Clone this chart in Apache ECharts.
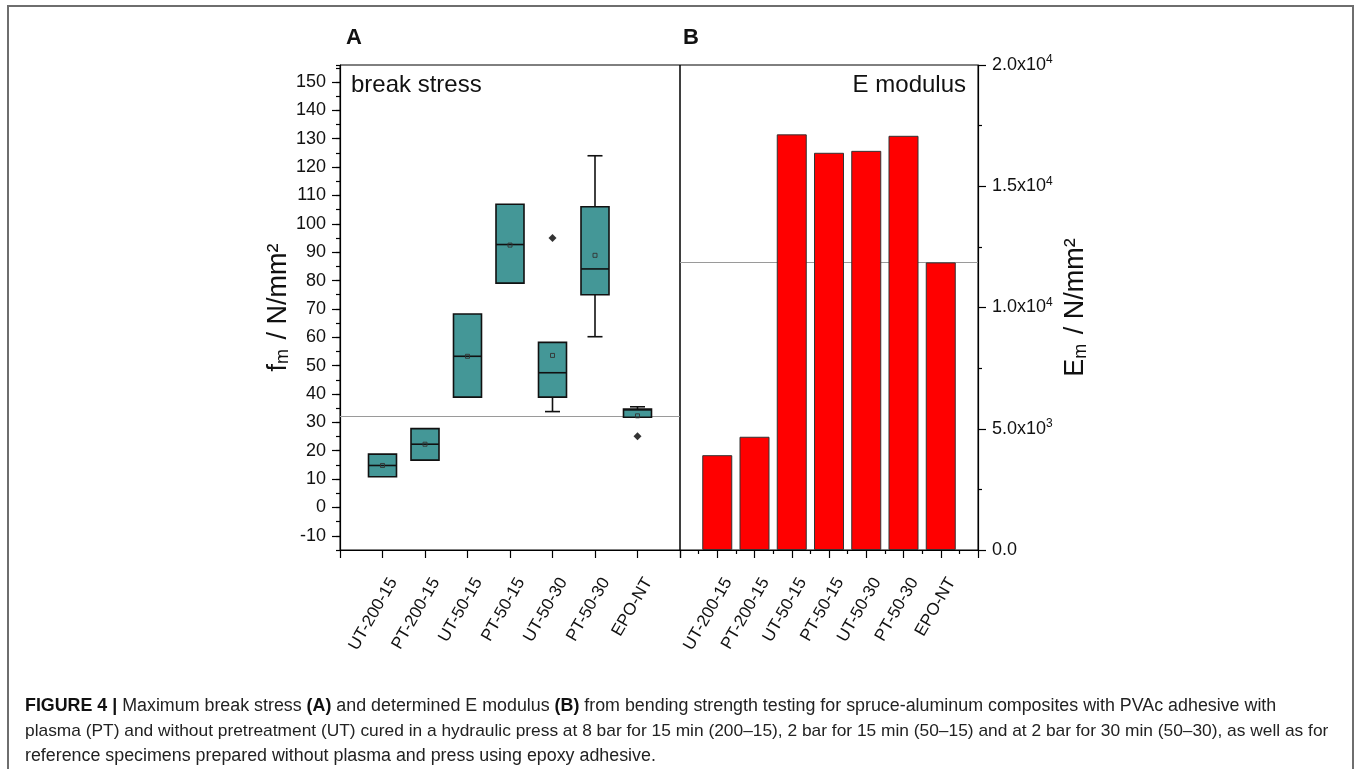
<!DOCTYPE html>
<html><head><meta charset="utf-8">
<script src="https://cdn.jsdelivr.net/npm/echarts@6/dist/echarts.min.js"></script>
<style>html,body{margin:0;padding:0;background:#fff}#c{width:1354px;height:769px}</style>
</head><body><div id="c"></div>
<script>
// ---- data ----
const categories = ['UT-200-15','PT-200-15','UT-50-15','PT-50-15','UT-50-30','PT-50-30','EPO-NT'];
const stressWhiskerLow  = [10.8, 16.7, 38.9, 79.1, 33.8, 60.2, 31.8];
const stressQ1          = [10.8, 16.7, 38.9, 79.1, 38.9, 75.0, 31.8];
const stressMedian      = [14.8, 22.3, 53.3, 92.7, 47.5, 84.1, 34.4];
const stressQ3          = [18.8, 27.8, 68.2, 106.9, 58.2, 106.0, 34.7];
const stressWhiskerHigh = [18.8, 27.8, 68.2, 106.9, 58.2, 124.0, 35.5];
const stressMean        = [14.8, 22.3, 53.3, 92.5, 53.6, 88.9, 32.3];
const outlierCategory   = ['UT-50-30', 'EPO-NT'];
const outlierValue      = [95.0, 25.1];
const modulus           = [3910, 4670, 17140, 16380, 16460, 17080, 11860];
const stressRefLine     = 32.3;
const modulusRefLine    = 11860;
const stressTickLabels  = [-10,0,10,20,30,40,50,60,70,80,90,100,110,120,130,140,150];
const modulusTickLabels = {0:'0.0', 5000:['5.0','3'], 10000:['1.0','4'], 15000:['1.5','4'], 20000:['2.0','4']};

// ---- build ----
const FONT = 'Liberation Sans, Arial, sans-serif';
const TEAL = '#449797';
const boxData = categories.map((c, i) => [i + 1, stressWhiskerLow[i], stressQ1[i], stressMedian[i], stressQ3[i], stressWhiskerHigh[i], stressMean[i]]);
const outlierData = outlierCategory.map((c, i) => [categories.indexOf(c) + 1, outlierValue[i]]);
const barData = modulus.map((v, i) => [i + 1, v]);
const catLabel = v => (v >= 1 && v <= categories.length && Number.isInteger(v)) ? categories[v - 1] : '';

const grid0 = {left: 340, top: 65, width: 340, height: 485};
const grid1 = {left: 680, top: 65, width: 298, height: 485};

const xLabelStyle = {rotate: 60, fontSize: 17, fontFamily: FONT, color: '#111', margin: 23, verticalAlign: 'top', lineHeight: 25, formatter: catLabel};
const axisLineStyle = {onZero: false, lineStyle: {color: '#000', width: 1.2}};
const titleRich = {i: {fontSize: 27, fontFamily: FONT, color: '#111'}, s: {fontSize: 18, fontFamily: FONT, color: '#111', verticalAlign: 'bottom', padding: [10, 2, 0, 0]}};

const option = {
  animation: false,
  backgroundColor: '#fff',
  grid: [
    Object.assign({show: true, borderColor: '#000', borderWidth: 1, backgroundColor: 'transparent'}, grid0),
    Object.assign({show: true, borderColor: '#000', borderWidth: 1, backgroundColor: 'transparent'}, grid1),
    Object.assign({show: false}, grid0)
  ],
  xAxis: [
    {gridIndex: 0, type: 'value', min: 0, max: 8, interval: 1,
      axisLine: axisLineStyle, axisTick: {show: true, length: 8, lineStyle: {color: '#000', width: 1.2}},
      axisLabel: xLabelStyle, splitLine: {show: false}},
    {gridIndex: 1, type: 'value', min: 0, max: 8, interval: 1,
      axisLine: axisLineStyle, axisTick: {show: true, length: 8, lineStyle: {color: '#000', width: 1.2}},
      minorTick: {show: true, splitNumber: 2, length: 4, lineStyle: {color: '#000', width: 1.2}},
      axisLabel: xLabelStyle, splitLine: {show: false}},
    {gridIndex: 2, type: 'value', min: 0, max: 8, show: false}
  ],
  yAxis: [
    {gridIndex: 0, type: 'value', min: -15, max: 156, interval: 5,
      axisLine: Object.assign({show: true}, axisLineStyle),
      axisTick: {show: true, length: 4, lineStyle: {color: '#000', width: 1.2}},
      axisLabel: {customValues: stressTickLabels, fontSize: 18, fontFamily: FONT, color: '#111', margin: 14},
      splitLine: {show: false},
      name: '{i|f}{s|m}{i| / N/mm²}', nameLocation: 'middle', nameRotate: 90, nameGap: 46,
      nameTextStyle: {rich: titleRich}},
    {gridIndex: 1, type: 'value', position: 'right', min: 0, max: 20000, interval: 5000,
      axisLine: Object.assign({show: true}, axisLineStyle),
      axisTick: {show: true, length: 8, lineStyle: {color: '#000', width: 1.2}},
      minorTick: {show: true, splitNumber: 2, length: 4, lineStyle: {color: '#000', width: 1.2}},
      axisLabel: {fontSize: 18, fontFamily: FONT, color: '#111', margin: 14,
        formatter: v => { const t = modulusTickLabels[v]; if (t === undefined) return ''; if (typeof t === 'string') return '{m|' + t + '}'; return '{m|' + t[0] + 'x10}{p|' + t[1] + '}'; },
        rich: {m: {fontSize: 18, fontFamily: FONT, color: '#111'}, p: {fontSize: 12, fontFamily: FONT, color: '#111', verticalAlign: 'top', padding: [0, 0, 10, 0]}}},
      splitLine: {show: false},
      name: '{i|E}{s|m}{i| / N/mm²}', nameLocation: 'middle', nameRotate: 90, nameGap: 84,
      nameTextStyle: {rich: titleRich}},
    {gridIndex: 2, type: 'value', min: -15, max: 156, position: 'left',
      axisLine: {show: false, onZero: false}, axisLabel: {show: false}, splitLine: {show: false},
      axisTick: {show: true, customValues: stressTickLabels, length: 8, lineStyle: {color: '#000', width: 1.2}}}
  ],
  series: [
    {type: 'line', xAxisIndex: 0, yAxisIndex: 0, data: [], z: 1, silent: true,
      markLine: {silent: true, symbol: 'none', label: {show: false}, lineStyle: {color: '#9a9a9a', width: 1.2, type: 'solid'}, data: [{yAxis: stressRefLine}]}},
    {type: 'line', xAxisIndex: 1, yAxisIndex: 1, data: [], z: 1, silent: true,
      markLine: {silent: true, symbol: 'none', label: {show: false}, lineStyle: {color: '#9a9a9a', width: 1.2, type: 'solid'}, data: [{yAxis: modulusRefLine}]}},
    {type: 'custom', xAxisIndex: 0, yAxisIndex: 0, z: 5, data: boxData,
      renderItem: (params, api) => {
        const x = api.value(0);
        const pLo = api.coord([x, api.value(1)]), pQ1 = api.coord([x, api.value(2)]), pMed = api.coord([x, api.value(3)]);
        const pQ3 = api.coord([x, api.value(4)]), pHi = api.coord([x, api.value(5)]), pMean = api.coord([x, api.value(6)]);
        const hw = 14, cw = 7.5, cx = pQ1[0];
        const ls = {stroke: '#111', lineWidth: 1.6};
        const ch = [];
        if (Math.abs(pLo[1] - pQ1[1]) > 0.5) {
          ch.push({type: 'line', shape: {x1: cx, y1: pQ1[1], x2: cx, y2: pLo[1]}, style: ls});
          ch.push({type: 'line', shape: {x1: cx - cw, y1: pLo[1], x2: cx + cw, y2: pLo[1]}, style: ls});
        }
        if (Math.abs(pHi[1] - pQ3[1]) > 0.5) {
          ch.push({type: 'line', shape: {x1: cx, y1: pQ3[1], x2: cx, y2: pHi[1]}, style: ls});
          ch.push({type: 'line', shape: {x1: cx - cw, y1: pHi[1], x2: cx + cw, y2: pHi[1]}, style: ls});
        }
        ch.push({type: 'rect', shape: {x: cx - hw, y: pQ3[1], width: 2 * hw, height: pQ1[1] - pQ3[1]}, style: {fill: TEAL, stroke: '#111', lineWidth: 1.6}});
        ch.push({type: 'line', shape: {x1: cx - hw, y1: pMed[1], x2: cx + hw, y2: pMed[1]}, style: ls});
        ch.push({type: 'rect', shape: {x: cx - 2, y: pMean[1] - 2, width: 4, height: 4}, style: {fill: 'none', stroke: '#333', lineWidth: 0.9}});
        return {type: 'group', children: ch};
      }},
    {type: 'scatter', xAxisIndex: 0, yAxisIndex: 0, z: 6, data: outlierData, symbol: 'diamond', symbolSize: 8,
      itemStyle: {color: '#000'}},
    {type: 'bar', xAxisIndex: 1, yAxisIndex: 1, z: 5, data: barData, barWidth: 30,
      itemStyle: {color: '#ff0000', borderColor: '#333', borderWidth: 1}}
  ],
  graphic: [
    {type: 'rect', z: 100, shape: {x: 8, y: 6, width: 1345, height: 800}, style: {fill: 'none', stroke: '#6e6e6e', lineWidth: 2}},
    {type: 'text', left: 346, top: 27, style: {text: 'A', font: 'bold 22px ' + FONT, fill: '#111'}},
    {type: 'text', left: 683, top: 27, style: {text: 'B', font: 'bold 22px ' + FONT, fill: '#111'}},
    {type: 'text', left: 351, top: 73, style: {text: 'break stress', font: '24px ' + FONT, fill: '#111'}},
    {type: 'text', right: 1354 - 966, top: 73, style: {text: 'E modulus', font: '24px ' + FONT, fill: '#111'}},
    {type: 'text', left: 25, top: 694, style: {
      text: '{b|FIGURE 4 |} Maximum break stress {b|(A)} and determined E modulus {b|(B)} from bending strength testing for spruce-aluminum composites with PVAc adhesive with',
      font: '17.85px ' + FONT, fill: '#222', lineHeight: 25,
      rich: {b: {font: 'bold 17.85px ' + FONT, fill: '#111', lineHeight: 25}}}},
    {type: 'text', left: 25, top: 719, style: {
      text: 'plasma (PT) and without pretreatment (UT) cured in a hydraulic press at 8 bar for 15 min (200–15), 2 bar for 15 min (50–15) and at 2 bar for 30 min (50–30), as well as for',
      font: '17.35px ' + FONT, fill: '#222', lineHeight: 25}},
    {type: 'text', left: 25, top: 744, style: {
      text: 'reference specimens prepared without plasma and press using epoxy adhesive.',
      font: '17.85px ' + FONT, fill: '#222', lineHeight: 25}}
  ]
};
const chart = echarts.init(document.getElementById('c'), null, {renderer: 'canvas'});
chart.setOption(option);
</script></body></html>
